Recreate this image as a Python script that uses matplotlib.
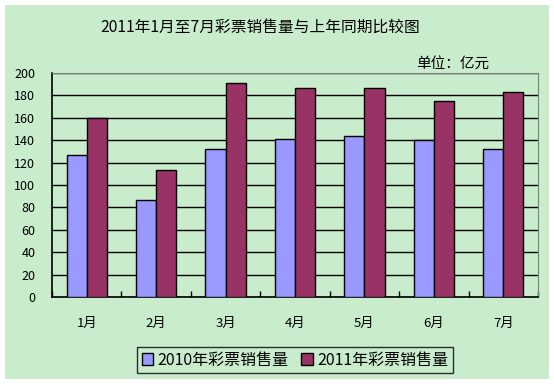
import matplotlib
matplotlib.use("Agg")
import matplotlib.pyplot as plt
from matplotlib.patches import Rectangle
import numpy as np

plt.rcParams['font.family'] = ['Noto Sans CJK SC', 'DejaVu Sans']

months = ["1月", "2月", "3月", "4月", "5月", "6月", "7月"]
sales_2010 = [127, 87, 132, 141, 144, 140, 132]
sales_2011 = [160, 113, 191, 187, 187, 175, 183]
y_ticks = [0, 20, 40, 60, 80, 100, 120, 140, 160, 180, 200]

W, H = 554, 384
bg = "#C8ECCC"

fig = plt.figure(figsize=(W / 100, H / 100), dpi=100)
fig.patch.set_facecolor("white")
fig.patches.append(Rectangle((5 / W, 5 / H), 544 / W, 374 / H,
                             transform=fig.transFigure, facecolor=bg,
                             edgecolor="none", zorder=-5))

ax = fig.add_axes([52 / W, (H - 297) / H, 486 / W, 224 / H])
ax.patch.set_alpha(0)

x = np.arange(len(months))
bw = 0.29
ax.bar(x - bw / 2, sales_2010, bw, color="#9999FF", edgecolor="black",
       linewidth=1, label="2010年彩票销售量", zorder=3)
ax.bar(x + bw / 2, sales_2011, bw, color="#993366", edgecolor="black",
       linewidth=1, label="2011年彩票销售量", zorder=3)

ax.set_xlim(-0.5, len(months) - 0.5)
ax.set_ylim(0, 200)
ax.set_yticks(y_ticks)
ax.set_yticklabels([str(v) for v in y_ticks], fontsize=9)
ax.tick_params(axis="y", length=0, pad=12)
ax.yaxis.grid(True, color="black", linewidth=1, zorder=1)
ax.set_axisbelow(True)

ax.set_xticks(x)
ax.set_xticklabels(months, fontsize=9.5)
ax.tick_params(axis="x", length=0, pad=14)
ax.set_xticks(np.arange(len(months) + 1) - 0.5, minor=True)
ax.tick_params(axis="x", which="minor", direction="in", length=4,
               width=1, color="black")

for side in ("top", "right"):
    ax.spines[side].set_color("#808080")
for side in ("left", "bottom"):
    ax.spines[side].set_color("black")
    ax.spines[side].set_linewidth(1.2)

fig.text(0.47, 1 - 27 / H, "2011年1月至7月彩票销售量与上年同期比较图",
         ha="center", va="center", fontsize=11.3)
fig.text(489 / W, 1 - 64 / H, "单位：亿元", ha="right", va="center",
         fontsize=10.5)

leg = fig.legend(loc="center", bbox_to_anchor=(295 / W, 1 - 360 / H),
                 ncol=2, fontsize=11.5, frameon=True, fancybox=False,
                 handlelength=0.7, handleheight=0.7, handletextpad=0.3,
                 columnspacing=0.8, borderpad=0.3)
leg.get_frame().set_edgecolor("black")
leg.get_frame().set_facecolor(bg)
leg.get_frame().set_linewidth(1)

fig.savefig("out.png", dpi=100, facecolor=fig.get_facecolor())
